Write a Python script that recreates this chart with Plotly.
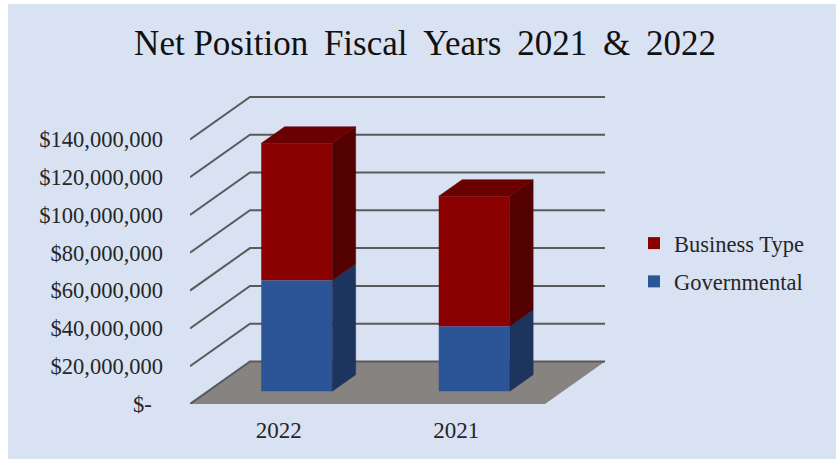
import plotly.graph_objects as go

# --- data ---
categories = ["2022", "2021"]
governmental = [58700000, 34400000]
business_type = [72500000, 68800000]
y_ticks = [0, 20000000, 40000000, 60000000, 80000000, 100000000, 120000000, 140000000]
y_labels = ["$-\u00a0\u00a0", "$20,000,000", "$40,000,000", "$60,000,000", "$80,000,000",
            "$100,000,000", "$120,000,000", "$140,000,000"]

# --- oblique projection settings (axis units) ---
W, H = 836, 459
M_L, M_R, M_T, M_B = 190, 226, 90, 55
PX_CAT = 177.5
PX_Y = 37.8 / 20000000
DEPTH_X = 60 / PX_CAT
DEPTH_Y = 42.5 / PX_Y
BAR_FRONT = 0.30
BAR_DEPTH = 0.39
BAR_W = 0.40
XMAX = (W - M_L - M_R) / PX_CAT
YMAX = (H - M_T - M_B) / PX_Y

RED, RED_SIDE, RED_TOP = "#8B0000", "#520000", "#6A0000"
BLUE, BLUE_SIDE = "#2C5597", "#1C345E"
GRID = "#5A5A5A"
FLOOR = "#878381"
BG = "#D9E2F3"
TEXT = "#262626"
FONT = "Liberation Serif"

shapes = [dict(type="rect", xref="paper", yref="paper", layer="below",
               x0=(8 - M_L) / (W - M_L - M_R), x1=(W - M_L + 5) / (W - M_L - M_R),
               y0=-(M_B + 5) / (H - M_T - M_B), y1=1 + (M_T - 4) / (H - M_T - M_B),
               fillcolor=BG, line_width=0)]
n = len(categories)
shapes.append(dict(type="path", layer="below", xref="x", yref="y",
                   path=f"M0,0 L{DEPTH_X},{DEPTH_Y} L{n + DEPTH_X},{DEPTH_Y} L{n},0 Z",
                   fillcolor=FLOOR, line_width=0))
for t in y_ticks:
    shapes.append(dict(type="path", layer="below", xref="x", yref="y",
                       path=f"M0,{t} L{DEPTH_X},{t + DEPTH_Y} L{n + DEPTH_X},{t + DEPTH_Y}",
                       line=dict(color=GRID, width=2), fillcolor="rgba(0,0,0,0)"))

centers = [i + 0.5 for i in range(n)]
bar_x = [c + BAR_FRONT * DEPTH_X for c in centers]
lift = BAR_FRONT * DEPTH_Y
dx, dy = BAR_DEPTH * DEPTH_X, BAR_DEPTH * DEPTH_Y

fig = go.Figure()
fig.add_trace(go.Bar(x=bar_x, y=governmental, base=[lift] * n, width=BAR_W, name="Governmental",
                     marker=dict(color=BLUE, line_width=0), legendgroup="g", legendrank=2,
                     hoverinfo="y"))
fig.add_trace(go.Bar(x=bar_x, y=business_type, base=[lift + g for g in governmental], width=BAR_W,
                     name="Business Type", marker=dict(color=RED, line_width=0),
                     legendgroup="b", legendrank=1, hoverinfo="y"))


def face(xs, ys, color):
    fig.add_trace(go.Scatter(x=xs, y=ys, mode="lines", fill="toself", fillcolor=color,
                             line=dict(color=color, width=0.5), showlegend=False, hoverinfo="skip"))


for i in range(n):
    r = bar_x[i] + BAR_W / 2
    l = bar_x[i] - BAR_W / 2
    y0 = lift
    y1 = lift + governmental[i]
    y2 = y1 + business_type[i]
    face([r, r + dx, r + dx, r, r], [y0, y0 + dy, y1 + dy, y1, y0], BLUE_SIDE)
    face([r, r + dx, r + dx, r, r], [y1, y1 + dy, y2 + dy, y2, y1], RED_SIDE)
    face([l, l + dx, r + dx, r, l], [y2, y2 + dy, y2 + dy, y2, y2], RED_TOP)

GAP = "\u00a0\u2009"
fig.update_layout(
    width=W, height=H, autosize=False,
    margin=dict(l=M_L, r=M_R, t=M_T, b=M_B),
    paper_bgcolor="white", plot_bgcolor="rgba(0,0,0,0)",
    shapes=shapes, barmode="overlay",
    font=dict(family=FONT, color=TEXT),
    title=dict(text=f"Net Position{GAP}Fiscal{GAP}Years{GAP}2021{GAP}&{GAP}2022",
               x=425 / W, xanchor="center", y=1 - 43 / H, yanchor="middle",
               font=dict(family=FONT, size=35, color="#111111")),
    xaxis=dict(range=[0, XMAX], tickvals=centers, ticktext=categories, showgrid=False,
               zeroline=False, showline=False, ticks="", ticklabelstandoff=10,
               tickfont=dict(family=FONT, size=23, color=TEXT), fixedrange=True),
    yaxis=dict(range=[0, YMAX], tickvals=y_ticks, ticktext=y_labels, showgrid=False,
               zeroline=False, showline=False, ticks="", ticklabelstandoff=26,
               tickfont=dict(family=FONT, size=22.5, color=TEXT), fixedrange=True),
    legend=dict(x=(634 - M_L) / (W - M_L - M_R), xanchor="left",
                y=1 - (222 - M_T) / (H - M_T - M_B), yanchor="top",
                traceorder="grouped", tracegroupgap=6, itemwidth=30,
                bgcolor="rgba(0,0,0,0)", font=dict(family=FONT, size=22.5, color=TEXT)),
)
fig.write_html("out.html", config=dict(displayModeBar=False),
               post_script="document.body.style.margin='0';document.documentElement.style.overflow='hidden';")
